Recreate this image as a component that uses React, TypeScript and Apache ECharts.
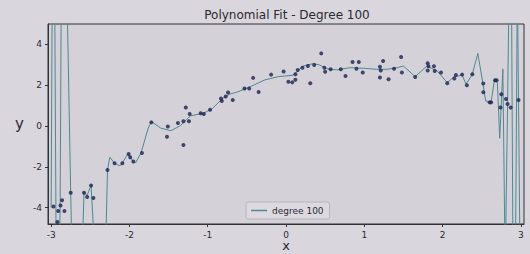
import React, { useEffect, useRef } from "react";
import * as echarts from "echarts";

const TITLE = "Polynomial Fit - Degree 100";
const SERIES_NAME = "degree 100";
const X_TICKS = [-3, -2, -1, 0, 1, 2, 3];
const Y_TICKS = [-4, -2, 0, 2, 4];

const pointX = [
  -2.97, -2.92, -2.91, -2.88, -2.86, -2.83, -2.75, -2.58, -2.54, -2.49, -2.46, -2.28, -2.19, -2.09,
  -2.01, -1.99, -1.95, -1.84, -1.72, -1.51, -1.52, -1.31, -1.38, -1.31, -1.28, -1.24, -1.23, -1.09,
  -1.05, -0.97, -0.83, -0.82, -0.77, -0.74, -0.68, -0.53, -0.47, -0.42, -0.35, -0.19, -0.03, 0.03,
  0.08, 0.12, 0.12, 0.15, 0.21, 0.28, 0.31, 0.36, 0.45, 0.49, 0.5, 0.57, 0.7, 0.76, 0.85, 0.93, 0.9,
  0.98, 1.2, 1.24, 1.21, 1.2, 1.31, 1.38, 1.47, 1.48, 1.65, 1.81, 1.82, 1.81, 1.89, 1.9, 1.98, 2.06,
  2.15, 2.17, 2.25, 2.31, 2.38, 2.52, 2.52, 2.6, 2.62, 2.67, 2.69, 2.75, 2.74, 2.81, 2.83, 2.87, 2.97,
];
const pointY = [
  -3.94, -4.7, -4.16, -3.89, -3.64, -4.16, -3.27, -3.27, -3.48, -2.91, -3.53, -2.15, -1.82, -1.82,
  -1.37, -1.53, -1.74, -1.32, 0.18, -0.02, -0.52, -0.93, 0.15, 0.23, 0.91, 0.23, 0.59, 0.63, 0.59,
  0.8, 1.35, 1.23, 1.45, 1.64, 1.28, 1.84, 1.84, 2.36, 1.67, 2.52, 2.67, 2.17, 2.14, 2.27, 2.54, 2.75,
  2.86, 2.94, 2.1, 2.99, 3.56, 2.86, 2.66, 2.78, 2.78, 2.45, 3.14, 3.14, 2.81, 2.62, 2.9, 3.19, 2.72,
  2.38, 2.29, 2.81, 3.38, 2.62, 2.4, 3.08, 2.93, 2.72, 2.93, 2.7, 2.62, 2.1, 2.33, 2.5, 2.52, 2.0, 2.54,
  2.08, 1.66, 1.16, 1.16, 2.24, 2.24, 1.56, 0.91, 1.32, 1.08, 0.91, 1.28,
];

const fitX = [
  -3.0, -2.985, -2.955, -2.935, -2.905, -2.885, -2.87, -2.82, -2.8, -2.75, -2.73, -2.61, -2.58, -2.54,
  -2.49, -2.43, -2.31, -2.28, -2.25, -2.19, -2.12, -2.09, -2.02, -1.95, -1.92, -1.85, -1.8, -1.76,
  -1.72, -1.6, -1.47, -1.35, -1.22, -1.05, -0.94, -0.81, -0.72, -0.62, -0.45, -0.27, -0.1, 0.09, 0.15,
  0.22, 0.35, 0.43, 0.52, 0.65, 0.82, 0.99, 1.16, 1.29, 1.42, 1.5, 1.65, 1.8, 1.93, 2.06, 2.15, 2.25,
  2.3, 2.38, 2.45, 2.52, 2.55, 2.62, 2.66, 2.7, 2.73, 2.77, 2.8, 2.83, 2.85, 2.88, 2.9, 2.93, 2.955,
  2.97, 2.99, 3.0,
];
const fitY = [
  -4.0, 7, 7, -7, -7, -4.1, 7, 7, 7, -3.27, -7, -7, -3.27, -3.4, -2.91, -7, -7, -2.15, -1.53, -1.82,
  -1.95, -1.8, -1.37, -1.74, -1.8, -1.3, -0.63, -0.1, 0.22, -0.1, -0.23, 0.02, 0.5, 0.63, 0.86, 1.35,
  1.56, 1.67, 1.94, 2.26, 2.42, 2.49, 2.7, 2.94, 3.06, 2.99, 2.81, 2.75, 2.86, 2.83, 2.78, 2.78, 2.86,
  2.94, 2.42, 2.94, 2.7, 2.13, 2.42, 2.49, 2.05, 2.54, 3.56, 1.97, 1.23, 1.16, 2.21, 2.13, -0.6, 2.8,
  -7, 1.0, 7, 7, -7, -7, 7, 1.3, -7, -7,
];

const BG = "#d9d6dd";
const PLOT_BG = "#d4d1d9";
const INK = "#2a2a30";

export default function App() {
  const ref = useRef<HTMLDivElement>(null);
  useEffect(() => {
    if (!ref.current) return;
    const chart = echarts.init(ref.current, undefined, { renderer: "svg" });
    const pts = pointX.map((x, i) => [x, pointY[i]]);
    const fit = fitX.map((x, i) => [x, fitY[i]]);
    chart.setOption({
      animation: false,
      backgroundColor: BG,
      textStyle: { fontFamily: "DejaVu Sans" },
      graphic: [
        {
          type: "text",
          x: 287,
          y: 15,
          style: {
            text: TITLE,
            fill: INK,
            font: "12px 'DejaVu Sans'",
            textAlign: "center",
            textVerticalAlign: "middle",
          },
        },
      ],
      grid: {
        left: 48,
        right: 6,
        top: 24,
        bottom: 30,
        outerBoundsMode: "none",
        containLabel: false,
        show: true,
        backgroundColor: PLOT_BG,
        borderColor: "#333",
        borderWidth: 1,
      },
      legend: {
        data: [{ name: SERIES_NAME, icon: "rect" }],
        left: 246,
        top: 202,
        orient: "horizontal",
        padding: [4, 6, 4, 5],
        itemWidth: 16,
        itemHeight: 1.5,
        itemGap: 6,
        borderColor: "#b8b6bc",
        borderWidth: 1,
        borderRadius: 2,
        backgroundColor: "#dcd9e0",
        textStyle: { fontSize: 9, color: INK, fontFamily: "DejaVu Sans" },
      },
      xAxis: {
        type: "value",
        min: -3.04,
        max: 3.04,
        name: "x",
        nameLocation: "middle",
        nameGap: 15,
        nameMoveOverlap: false,
        nameTextStyle: { fontSize: 13, color: INK, fontFamily: "DejaVu Sans" },
        axisLine: { show: true, onZero: false, lineStyle: { color: "#333" } },
        splitLine: { show: false },
        axisTick: { show: true, length: 3, customValues: X_TICKS, lineStyle: { color: "#333" } },
        axisLabel: { customValues: X_TICKS, fontSize: 9, color: INK, margin: 6 },
      },
      yAxis: {
        type: "value",
        min: -4.8,
        max: 5,
        name: "y",
        nameLocation: "middle",
        nameRotate: 0,
        nameGap: 24,
        nameMoveOverlap: false,
        nameTextStyle: { fontSize: 15, color: INK, fontFamily: "DejaVu Sans" },
        axisLine: { show: true, onZero: false, lineStyle: { color: "#333" } },
        splitLine: { show: false },
        axisTick: { show: true, length: 3, customValues: Y_TICKS, lineStyle: { color: "#333" } },
        axisLabel: { customValues: Y_TICKS, fontSize: 9, color: INK, margin: 6 },
      },
      series: [
        {
          name: SERIES_NAME,
          type: "line",
          data: fit,
          symbol: "none",
          clip: true,
          lineStyle: { color: "#4f8890", width: 1 },
          itemStyle: { color: "#4f8890" },
          z: 2,
        },
        {
          name: "data",
          type: "scatter",
          data: pts,
          symbolSize: 4,
          itemStyle: { color: "#1c2250" },
          z: 3,
        },
      ],
    });
    return () => chart.dispose();
  }, []);
  return (
    <div
      ref={ref}
      style={{ position: "fixed", left: 0, top: 0, width: 530, height: 254 }}
    />
  );
}
